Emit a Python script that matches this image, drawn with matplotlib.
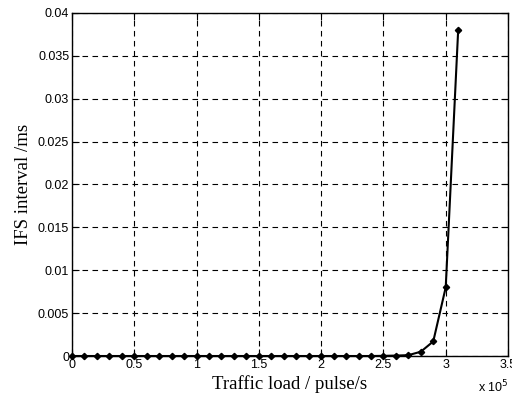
import numpy as np
import matplotlib
matplotlib.use("Agg")
import matplotlib.pyplot as plt

# traffic load (pulse/s) and IFS interval (ms)
load = [0, 10000, 20000, 30000, 40000, 50000, 60000, 70000, 80000, 90000,
        100000, 110000, 120000, 130000, 140000, 150000, 160000, 170000, 180000, 190000,
        200000, 210000, 220000, 230000, 240000, 250000, 260000, 270000, 280000, 290000,
        300000, 310000]
ifs = [0, 0, 0, 0, 0, 0, 0, 0, 0, 0,
       0, 0, 0, 0, 0, 0, 0, 0, 0, 0,
       0, 0, 0, 0, 0, 0.00002, 0.00005, 0.0001, 0.0005, 0.0017,
       0.0080, 0.0380]

xticks = [0, 50000, 100000, 150000, 200000, 250000, 300000, 350000]
xtick_labels = ["0", "0.5", "1", "1.5", "2", "2.5", "3", "3.5"]
yticks = [0, 0.005, 0.01, 0.015, 0.02, 0.025, 0.03, 0.035, 0.04]
ytick_labels = ["0", "0.005", "0.01", "0.015", "0.02", "0.025", "0.03", "0.035", "0.04"]

fig = plt.figure(figsize=(5.12, 3.98), dpi=100)
ax = fig.add_axes([0.1406, 0.1055, 0.8516, 0.862])

ax.plot(load, ifs, color="black", linewidth=1.5, marker="D", markersize=3.2,
        markerfacecolor="black", markeredgecolor="black", clip_on=False, zorder=3)

ax.set_xlim(0, 350000)
ax.set_ylim(0, 0.04)
ax.set_xticks(xticks)
ax.set_xticklabels(xtick_labels, family="Liberation Sans", fontsize=9)
ax.set_yticks(yticks)
ax.set_yticklabels(ytick_labels, family="Liberation Sans", fontsize=9)
ax.tick_params(direction="in", length=5, width=0.8, pad=2, top=True, right=True)

ax.grid(True, color="black", linestyle=(0, (5, 4)), linewidth=0.8)
for s in ax.spines.values():
    s.set_linewidth(1.0)
    s.set_color("black")

ax.set_xlabel("Traffic load / pulse/s", family="Liberation Serif", fontsize=13.5, labelpad=3)
ax.set_ylabel("IFS interval /ms", family="Liberation Serif", fontsize=13.5, labelpad=4)

fig.text(0.933, 0.008, "x 10$^5$", family="Liberation Sans", fontsize=9, ha="left", va="bottom")

fig.savefig("out.png", dpi=100)
